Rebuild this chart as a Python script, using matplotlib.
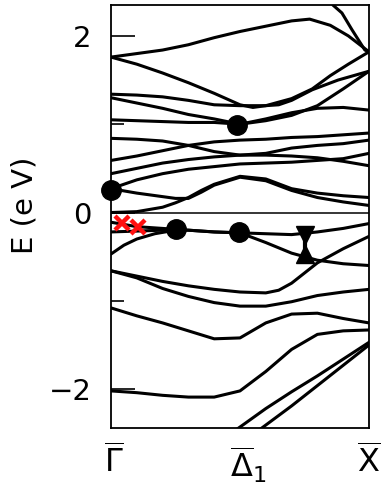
import matplotlib.pyplot as plt

# k along Gamma -> X (0..1), energies in eV
k_grid = [0.0, 0.1, 0.2, 0.3, 0.4, 0.5, 0.6, 0.7, 0.8, 0.9, 1.0]

u1_k = [0, .1, .2, .3, .4, .5, .6, .7, .77, .85, .92, 1.0]
u1 = [1.76, 1.80, 1.84, 1.90, 1.98, 2.05, 2.11, 2.17, 2.19, 2.12, 2.00, 1.82]
u2_k = [0.85, 0.86, 0.895, 0.934, 0.984, 1.0]
u2 = [2.46, 2.35, 2.26, 2.07, 1.84, 1.82]
u3_k = [0, .1, .2, .3, .4, .5, .55, .6, .65, .7, .78, .85, .92, 1.0]
u3 = [1.76, 1.68, 1.58, 1.47, 1.35, 1.22, 1.19, 1.21, 1.25, 1.29, 1.40, 1.55, 1.68, 1.82]
u4_k = [0, .1, .2, .3, .4, .5, .6, .65, .7, .78, .88, 1.0]
u4 = [1.34, 1.33, 1.31, 1.27, 1.22, 1.21, 1.21, 1.22, 1.27, 1.39, 1.50, 1.60]
u5 = [1.30, 1.24, 1.18, 1.11, 1.06, 1.00, 1.06, 1.13, 1.18, 1.19, 1.16]
u6 = [1.05, 1.04, 1.03, 1.02, 1.02, 1.00, 1.04, 1.10, 1.21, 1.40, 1.60]

m1 = [0.84, 0.83, 0.81, 0.76, 0.69, 0.65, 0.67, 0.73, 0.76, 0.78, 0.82]
m2 = [0.59, 0.64, 0.70, 0.76, 0.80, 0.82, 0.83, 0.85, 0.86, 0.88, 0.90]
m3 = [0.44, 0.50, 0.56, 0.60, 0.63, 0.65, 0.65, 0.64, 0.62, 0.58, 0.53]
m4 = [0.27, 0.37, 0.44, 0.49, 0.52, 0.55, 0.56, 0.57, 0.59, 0.61, 0.67]
m56_k = [0, .1, .2, .25, .3, .35, .4, .5, .6, .7, .8, .9, 1.0]
m5 = [0.0, 0.01, 0.06, 0.11, 0.17, 0.25, 0.32, 0.41, 0.38, 0.27, 0.22, 0.19, 0.17]
m6 = [0.27, 0.22, 0.18, 0.16, 0.16, 0.23, 0.31, 0.40, 0.36, 0.25, 0.17, 0.12, 0.08]

l1 = [-0.11, -0.16, -0.18, -0.20, -0.22, -0.23, -0.24, -0.25, -0.22, -0.18, -0.125]
l2 = [-0.22, -0.21, -0.20, -0.20, -0.22, -0.23, -0.34, -0.46, -0.54, -0.58, -0.60]
l3_k = [0, .05, .1, .17, .25]
l3 = [-0.47, -0.37, -0.30, -0.24, -0.20]
l4_k = [0, .1, .2, .3, .4, .5, .6, .65, .7, .8, .9, 1.0]
l4 = [-0.66, -0.72, -0.78, -0.83, -0.87, -0.90, -0.91, -0.88, -0.80, -0.57, -0.41, -0.27]
l5 = [-0.66, -0.74, -0.86, -0.95, -1.02, -1.06, -1.06, -1.01, -0.94, -0.90, -0.87]
l6 = [-1.08, -1.17, -1.25, -1.34, -1.43, -1.42, -1.25, -1.15, -1.14, -1.20, -1.25]
l7 = [-2.02, -2.04, -2.07, -2.09, -2.09, -2.02, -1.80, -1.55, -1.38, -1.34, -1.33]
l8_k = [0.47, 0.49, 0.6, 0.7, 0.8, 0.9, 1.0]
l8 = [-2.50, -2.45, -2.22, -2.03, -1.85, -1.66, -1.47]
l9_k = [0.56, 0.58, 0.7, 0.8, 0.9, 1.0]
l9 = [-2.50, -2.45, -2.19, -1.96, -1.73, -1.50]

dot_k = [0.0, 0.488, 0.252, 0.496]
dot_E = [0.26, 0.99, -0.19, -0.22]
cross_k = [0.041, 0.106]
cross_E = [-0.12, -0.16]
bar_k = 0.752
bar_top = -0.26
bar_bottom = -0.47

sym_k = [0.01, 0.53, 1.0]
sym_labels = [r'$\overline{\Gamma}$', r'$\overline{\Delta}_{\mathrm{1}}$', r'$\overline{\mathrm{X}}$']

bands = [
    (u1_k, u1), (u2_k, u2), (u3_k, u3), (u4_k, u4), (k_grid, u5), (k_grid, u6),
    (k_grid, m1), (k_grid, m2), (k_grid, m3), (k_grid, m4), (m56_k, m5), (m56_k, m6),
    (k_grid, l1), (k_grid, l2), (l3_k, l3), (l4_k, l4), (k_grid, l5), (k_grid, l6),
    (k_grid, l7), (l8_k, l8), (l9_k, l9),
]

plt.rcParams['mathtext.fontset'] = 'dejavusans'

fig = plt.figure(figsize=(3.81, 4.97), dpi=100)
ax = fig.add_axes([111/381, 1 - 428/497, 258/381, 423/497])

for kk, ee in bands:
    ax.plot(kk, ee, color='black', lw=2.2, solid_capstyle='round',
            solid_joinstyle='round')

ax.axhline(0, color='black', lw=1.1)

ax.plot(dot_k, dot_E, 'o', color='black', ms=14, clip_on=False, zorder=5)
ax.plot([bar_k, bar_k], [bar_top, bar_bottom], color='black', lw=3, zorder=5)
ax.plot(bar_k, bar_top, 'v', color='black', ms=13, zorder=5)
ax.plot(bar_k, bar_bottom, '^', color='black', ms=13, zorder=5)
ax.plot(cross_k, cross_E, 'x', color='#ff1010', ms=10, mew=3.2, zorder=6)

ax.set_xlim(0, 1)
ax.set_ylim(-2.44, 2.35)

ax.set_yticks([-2, 0, 2])
ax.set_yticklabels(['\u22122', '0', '2'])
ax.set_yticks([-1, 1], minor=True)
ax.tick_params(axis='y', which='major', direction='in', length=17, width=1.2,
               labelsize=21, pad=14)
ax.tick_params(axis='y', which='minor', direction='in', length=9, width=1.2)

ax.set_xticks(sym_k)
ax.set_xticklabels(sym_labels)
ax.tick_params(axis='x', length=0, labelsize=23, pad=12)

for sp in ax.spines.values():
    sp.set_linewidth(1.3)

fig.text(25/381, 1 - 205/497, 'E (e V)', rotation=90, fontsize=21,
         ha='center', va='center')

fig.savefig('out.png', dpi=100)
